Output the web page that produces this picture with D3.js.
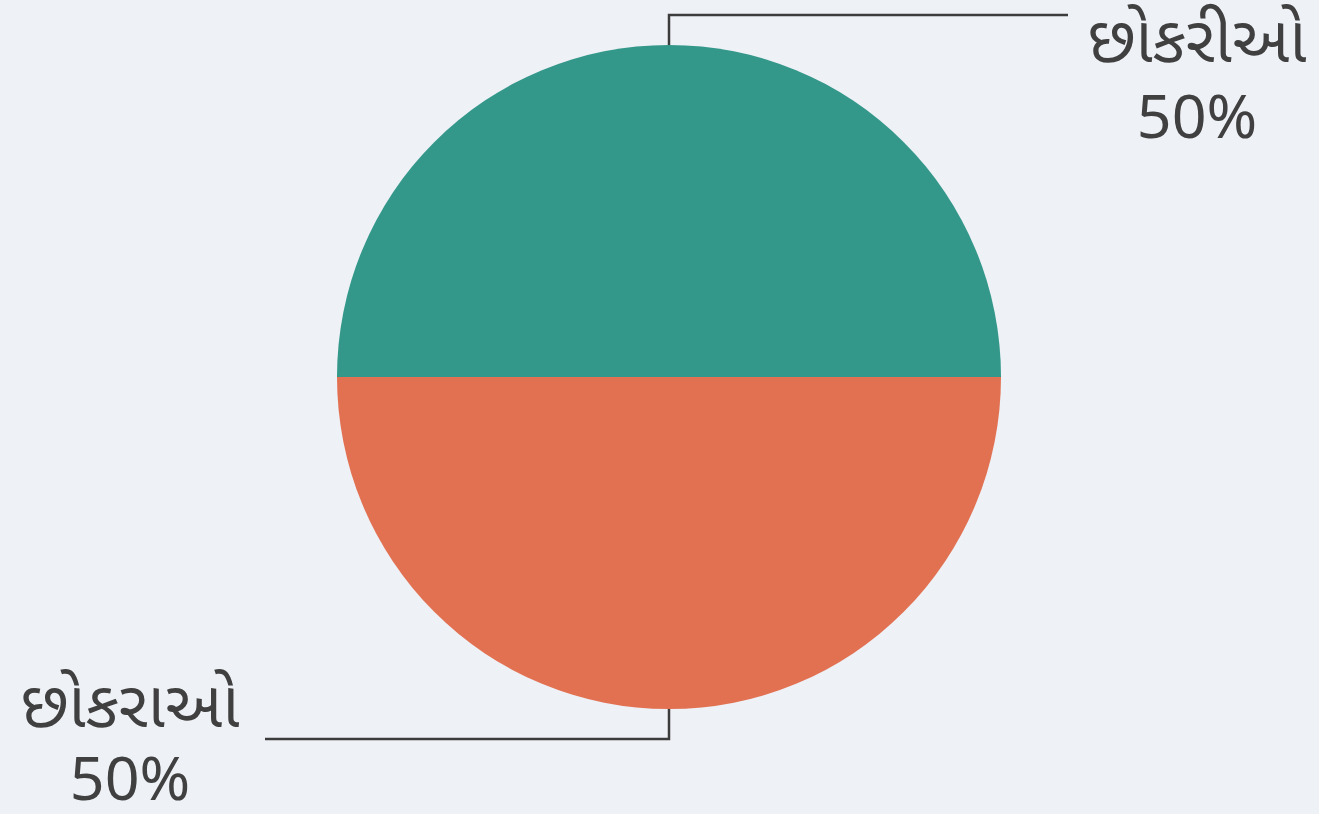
<!DOCTYPE html>
<html><head><meta charset="utf-8">
<script src="https://cdn.jsdelivr.net/npm/d3@7"></script>
<style>
html,body{margin:0;padding:0;background:#eef1f6;}
svg{display:block;}
text{font-family:"Noto Sans Gujarati","Noto Sans","Lato",sans-serif;fill:#404040;}
</style></head><body>
<svg id="c" width="1319" height="814"></svg>
<script>
const categories = ["છોકરીઓ", "છોકરાઓ"];
const values = [50, 50];
const colors = ["#33978a", "#e27152"];

const svg = d3.select("#c");
const cx = 669, cy = 377, R = 332;
const g = svg.append("g").attr("transform", `translate(${cx},${cy})`);
const data = categories.map((c, i) => ({cat: c, value: values[i], color: colors[i]}));
const pie = d3.pie().value(d => d.value).sort(null).startAngle(-Math.PI/2).endAngle(3*Math.PI/2);
const arc = d3.arc().innerRadius(0).outerRadius(R);
const arcs = pie(data);
g.selectAll("path.slice").data(arcs).join("path").attr("class","slice")
  .attr("d", arc).attr("fill", d => d.data.color);

const total = d3.sum(values);
const labelCfg = [
  {dy: -30, hx: 1068, tx: 1197, t1: 62, t2: 138},
  {dy: 30, hx: 265, tx: 130, t1: 727, t2: 800}
];
arcs.forEach((a, i) => {
  const mid = (a.startAngle + a.endAngle) / 2;
  const px = cx + R * Math.sin(mid), py = cy - R * Math.cos(mid);
  const c = labelCfg[i];
  const ey = py + c.dy;
  svg.append("path").attr("d", `M${px},${py} L${px},${ey} L${c.hx},${ey}`)
    .attr("fill","none").attr("stroke","#3c3c3c").attr("stroke-width",2.5);
  svg.append("text").attr("x", c.tx).attr("y", c.t1).attr("text-anchor","middle")
    .attr("font-size", 65).text(a.data.cat);
  svg.append("text").attr("x", c.tx).attr("y", c.t2).attr("text-anchor","middle")
    .attr("font-size", 61).text(Math.round(a.data.value / total * 100) + "%");
});
</script>
</body></html>
